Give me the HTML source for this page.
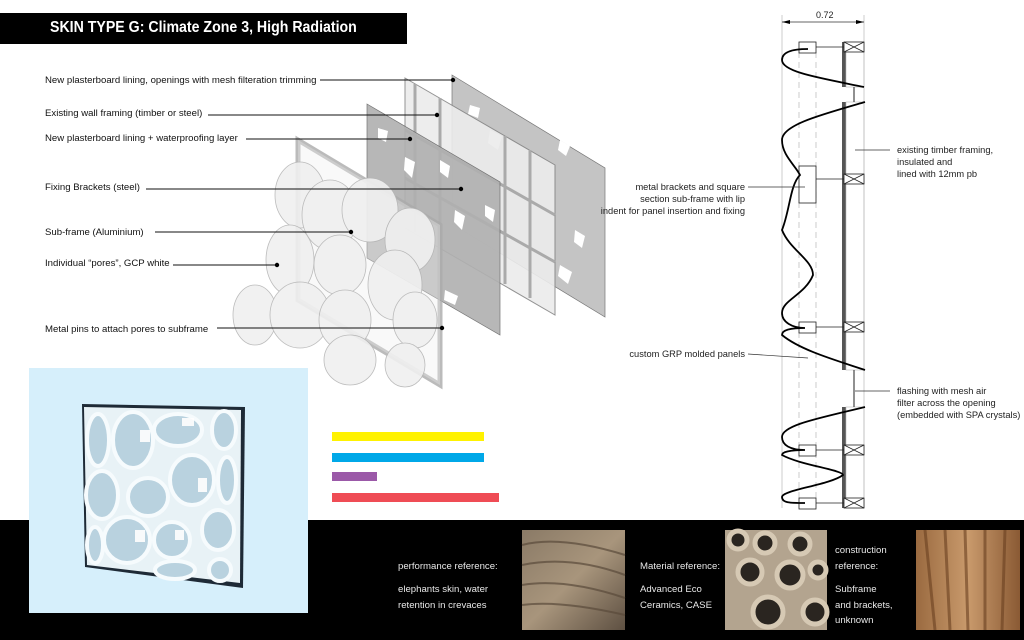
<!DOCTYPE html>
<html><head><meta charset="utf-8"><style>
html,body{margin:0;padding:0;background:#fff}
body{width:1024px;height:640px;position:relative;overflow:hidden;font-family:"Liberation Sans",sans-serif}
.t{position:absolute;font-size:9.6px;color:#111;white-space:nowrap}
.w{position:absolute;font-size:9.6px;color:#e8e8e8;white-space:nowrap;line-height:15.5px}
.r{position:absolute;font-size:9.3px;color:#222;white-space:nowrap;line-height:12px}
</style></head><body>
<svg width="1024" height="640" style="position:absolute;left:0;top:0">
<rect x="0" y="520" width="1024" height="120" fill="#000"/>
<rect x="0" y="13" width="407" height="31" fill="#000"/>
<!-- far plasterboard -->
<polygon points="452,75 605,168 605,317 452,224" fill="#c4c4c4" stroke="#777" stroke-width="0.7"/>
<polygon points="470,105 480,108 478,118 468,114" fill="#fff"/><polygon points="490,130 502,136 498,150 488,143" fill="#fff"/>
<polygon points="560,140 570,146 566,156 558,150" fill="#fff"/><polygon points="575,230 585,236 582,248 574,242" fill="#fff"/>
<polygon points="560,265 572,272 568,284 558,276" fill="#fff"/>
<!-- framing -->
<polygon points="405,78 555,165 555,315 405,228" fill="#ececec" stroke="#888" stroke-width="1" opacity="0.9"/>
<path d="M415,84 L415,232 M440,98 L440,246 M505,136 L505,284 M530,150 L530,298 M405,130 L555,215 M405,178 L555,262" stroke="#aaa" stroke-width="3" fill="none"/>
<!-- middle plasterboard -->
<polygon points="367,104 500,182 500,335 367,258" fill="#b0b0b0" stroke="#666" stroke-width="0.7" opacity="0.9"/>
<polygon points="378,128 388,131 386,142 378,138" fill="#fff"/><polygon points="405,157 415,162 412,178 404,170" fill="#fff"/>
<polygon points="440,160 450,166 448,178 440,172" fill="#fff"/><polygon points="455,210 465,216 462,230 454,222" fill="#fff"/>
<polygon points="485,205 495,210 493,222 485,216" fill="#fff"/><polygon points="445,290 458,296 455,305 444,300" fill="#fff"/>
<!-- subframe -->
<polygon points="298,140 440,225 440,385 298,300" fill="none" stroke="#aaa" stroke-width="5" opacity="0.8"/>
<polygon points="298,140 440,225 440,385 298,300" fill="#eee" opacity="0.35"/>
<!-- pores -->
<g fill="#f0f0f0" stroke="#b5b5b5" stroke-width="0.8" opacity="0.9">
<ellipse cx="300" cy="195" rx="25" ry="33"/><ellipse cx="330" cy="215" rx="28" ry="35"/>
<ellipse cx="370" cy="210" rx="28" ry="32"/><ellipse cx="410" cy="240" rx="25" ry="32"/>
<ellipse cx="290" cy="260" rx="24" ry="35"/><ellipse cx="340" cy="265" rx="26" ry="30"/>
<ellipse cx="395" cy="285" rx="27" ry="35"/><ellipse cx="255" cy="315" rx="22" ry="30"/>
<ellipse cx="300" cy="315" rx="30" ry="33"/><ellipse cx="345" cy="320" rx="26" ry="30"/>
<ellipse cx="415" cy="320" rx="22" ry="28"/><ellipse cx="350" cy="360" rx="26" ry="25"/><ellipse cx="405" cy="365" rx="20" ry="22"/>
</g>
<!-- leader lines -->
<g stroke="#111" stroke-width="0.9">
<line x1="320" y1="80" x2="453" y2="80"/><line x1="208" y1="115" x2="437" y2="115"/>
<line x1="246" y1="139" x2="410" y2="139"/><line x1="146" y1="189" x2="461" y2="189"/>
<line x1="155" y1="232" x2="351" y2="232"/><line x1="173" y1="265" x2="277" y2="265"/>
<line x1="217" y1="328" x2="442" y2="328"/>
</g>
<g fill="#000"><circle cx="453" cy="80" r="2.2"/><circle cx="437" cy="115" r="2.2"/><circle cx="410" cy="139" r="2.2"/><circle cx="461" cy="189" r="2.2"/><circle cx="351" cy="232" r="2.2"/><circle cx="277" cy="265" r="2.2"/><circle cx="442" cy="328" r="2.2"/></g>

<!-- section -->
<g stroke="#aaa" stroke-width="0.6" fill="none">
<line x1="782" y1="15" x2="782" y2="508"/><line x1="864" y1="15" x2="864" y2="508"/>
<line x1="799" y1="42" x2="799" y2="508" stroke-dasharray="6,4"/><line x1="816" y1="42" x2="816" y2="508" stroke-dasharray="6,4"/>
</g>
<line x1="782" y1="22" x2="864" y2="22" stroke="#333" stroke-width="0.7"/>
<polygon points="782,22 790,20 790,24" fill="#000"/><polygon points="864,22 856,20 856,24" fill="#000"/>
<text x="816" y="18" font-size="9" fill="#222" font-family="Liberation Sans">0.72</text>
<rect x="842" y="42" width="4" height="45" fill="#555"/><rect x="842" y="102" width="4" height="268" fill="#555"/><rect x="842" y="407" width="4" height="101" fill="#555"/>
<g fill="none" stroke="#bbb" stroke-width="0.6">
<rect x="846" y="42" width="18" height="45"/><rect x="846" y="102" width="18" height="268"/><rect x="846" y="407" width="18" height="101"/>
</g>
<line x1="854" y1="87" x2="854" y2="102" stroke="#222"/><line x1="854" y1="370" x2="854" y2="407" stroke="#222"/>
<g stroke="#222" stroke-width="0.8" fill="#fff">
<rect x="844" y="42" width="20" height="10"/><rect x="844" y="174" width="20" height="10"/><rect x="844" y="322" width="20" height="10"/><rect x="844" y="445" width="20" height="10"/><rect x="844" y="498" width="20" height="10"/>
<path d="M844,42 L864,52 M864,42 L844,52 M844,174 L864,184 M864,174 L844,184 M844,322 L864,332 M864,322 L844,332 M844,445 L864,455 M864,445 L844,455 M844,498 L864,508 M864,498 L844,508" fill="none"/>
<rect x="799" y="42" width="17" height="11"/><rect x="799" y="166" width="17" height="37"/><rect x="799" y="322" width="17" height="11"/><rect x="799" y="445" width="17" height="11"/><rect x="799" y="498" width="17" height="11"/>
<path d="M816,47 L844,47 M816,179 L844,179 M816,327 L844,327 M816,450 L844,450 M816,503 L844,503" fill="none"/>
</g>
<g stroke="#000" stroke-width="1.8" fill="none">
<path d="M864,87 C820,78 782,72 782,60 C782,52 792,49 808,49"/>
<path d="M865,102 C820,115 782,125 782,140 C782,155 795,165 800,175 C790,185 790,210 782,230 C790,250 813,260 813,275 C805,295 782,300 782,313 C782,322 792,328 805,328 C790,328 782,330 782,335 C800,350 835,360 865,370"/>
<path d="M865,407 C820,418 782,425 782,437 C782,445 790,450 805,450 C790,450 782,452 782,455 C800,465 843,470 843,475 C830,485 782,490 782,497 C782,503 790,503 805,503"/>
</g>
<g stroke="#333" stroke-width="0.7">
<line x1="855" y1="150" x2="890" y2="150"/><line x1="748" y1="187" x2="805" y2="187"/><line x1="748" y1="354" x2="808" y2="358"/><line x1="855" y1="391" x2="890" y2="391"/>
</g>

<!-- render box -->
<rect x="29" y="368" width="279" height="245" fill="#d6effb"/>
<polygon points="82,404 245,407 243,588 85,567" fill="#1e2a36"/>
<polygon points="84,407 241,410 240,583 87,565" fill="#e8f2f6"/>
<g fill="#b9d2df" stroke="#f6fbfd" stroke-width="4">
<ellipse cx="98" cy="440" rx="11" ry="26"/><ellipse cx="133" cy="440" rx="20" ry="28"/><ellipse cx="178" cy="430" rx="24" ry="16"/><ellipse cx="224" cy="430" rx="12" ry="19"/>
<ellipse cx="102" cy="495" rx="16" ry="24"/><ellipse cx="148" cy="497" rx="20" ry="19"/><ellipse cx="192" cy="480" rx="22" ry="25"/><ellipse cx="227" cy="480" rx="9" ry="23"/>
<ellipse cx="95" cy="545" rx="8" ry="18"/><ellipse cx="127" cy="540" rx="23" ry="23"/><ellipse cx="172" cy="540" rx="18" ry="18"/><ellipse cx="218" cy="530" rx="16" ry="20"/>
<ellipse cx="175" cy="570" rx="20" ry="9"/><ellipse cx="220" cy="570" rx="11" ry="11"/>
</g>
<g fill="#fff" opacity="0.9"><rect x="140" y="430" width="10" height="12"/><rect x="182" y="418" width="12" height="8"/><rect x="198" y="478" width="9" height="14"/><rect x="135" y="530" width="10" height="12"/><rect x="175" y="530" width="9" height="10"/></g>

<!-- bars -->
<rect x="332" y="432" width="152" height="9" fill="#fff200"/><rect x="332" y="453" width="152" height="9" fill="#00a8e8"/>
<rect x="332" y="472" width="45" height="9" fill="#9b59a8"/><rect x="332" y="493" width="167" height="9" fill="#ef4c55"/>

<defs>
<linearGradient id="g1" x1="0" y1="0" x2="1" y2="1"><stop offset="0" stop-color="#8a7a66"/><stop offset="0.5" stop-color="#a8957c"/><stop offset="1" stop-color="#5e5042"/></linearGradient>
<linearGradient id="g3" x1="0" y1="0" x2="1" y2="0"><stop offset="0" stop-color="#9a6a40"/><stop offset="0.5" stop-color="#c99a6c"/><stop offset="1" stop-color="#8a5a34"/></linearGradient>
</defs>
<rect x="522" y="530" width="103" height="100" fill="url(#g1)"/>
<g stroke="#5a4a3a" stroke-width="2" fill="none" opacity="0.7">
<path d="M522,545 Q560,535 625,555 M522,565 Q570,555 625,575 M522,585 Q565,578 625,598 M522,605 Q560,600 625,615"/></g>
<rect x="725" y="530" width="102" height="100" fill="#b3a48f"/>
<g fill="#2a2520" stroke="#d6c9b4" stroke-width="5">
<circle cx="738" cy="540" r="9"/><circle cx="765" cy="543" r="10"/><circle cx="800" cy="544" r="10"/><circle cx="750" cy="572" r="12"/><circle cx="790" cy="575" r="13"/><circle cx="818" cy="570" r="8"/><circle cx="768" cy="612" r="15"/><circle cx="815" cy="612" r="12"/>
</g>
<rect x="916" y="530" width="104" height="100" fill="url(#g3)"/>
<g stroke="#6a4020" stroke-width="3" opacity="0.6"><path d="M925,530 L935,630 M945,530 L950,630 M965,530 L968,630 M985,530 L985,630 M1005,530 L1002,630"/></g>
</svg>

<div style="position:absolute;left:50px;top:19px;color:#fff;font-weight:bold;font-size:16px;transform:scaleX(0.885);transform-origin:0 0;white-space:nowrap">SKIN TYPE G: Climate Zone 3, High Radiation</div>

<div class="t" style="left:45px;top:75px">New plasterboard lining, openings with mesh filteration trimming</div>
<div class="t" style="left:45px;top:108px">Existing wall framing (timber or steel)</div>
<div class="t" style="left:45px;top:133px">New plasterboard lining + waterproofing layer</div>
<div class="t" style="left:45px;top:182px">Fixing Brackets (steel)</div>
<div class="t" style="left:45px;top:227px">Sub-frame (Aluminium)</div>
<div class="t" style="left:45px;top:258px">Individual “pores”, GCP white</div>
<div class="t" style="left:45px;top:324px">Metal pins to attach pores to subframe</div>

<div class="r" style="left:897px;top:144px">existing timber framing,<br>insulated and<br>lined with 12mm pb</div>
<div class="r" style="right:279px;top:181px;text-align:right">metal brackets and square<br>section sub-frame with lip<br>indent for panel insertion and fixing</div>
<div class="r" style="right:279px;top:348px;text-align:right">custom GRP molded panels</div>
<div class="r" style="left:897px;top:385px">flashing with mesh air<br>filter across the opening<br>(embedded with SPA crystals)</div>

<div class="w" style="left:398px;top:559px">performance reference:</div>
<div class="w" style="left:398px;top:582px">elephants skin, water<br>retention in crevaces</div>
<div class="w" style="left:640px;top:559px">Material reference:</div>
<div class="w" style="left:640px;top:582px">Advanced Eco<br>Ceramics, CASE</div>
<div class="w" style="left:835px;top:543px">construction<br>reference:</div>
<div class="w" style="left:835px;top:582px">Subframe<br>and brackets,<br>unknown</div>
</body></html>
